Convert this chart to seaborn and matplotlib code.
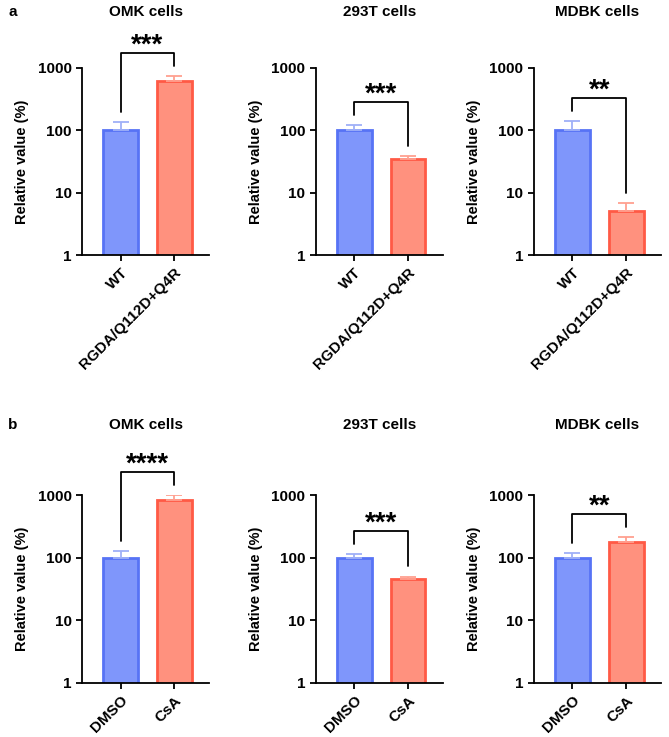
import matplotlib
matplotlib.use('Agg')
import matplotlib.pyplot as plt
import matplotlib.ticker as mticker
import seaborn as sns

sns.set_theme(style="white")
plt.rcParams['font.family'] = ['Liberation Sans', 'DejaVu Sans']
plt.rcParams['font.weight'] = 'bold'
plt.rcParams['text.color'] = 'black'
plt.rcParams['axes.labelcolor'] = 'black'
plt.rcParams['xtick.color'] = 'black'
plt.rcParams['ytick.color'] = 'black'

# Datos
cells = ['OMK cells', '293T cells', 'MDBK cells']
groups_a = ['WT', 'RGDA/Q112D+Q4R']
groups_b = ['DMSO', 'CsA']
means_a = [[100, 620], [100, 35], [100, 5.1]]
sd_a = [[35, 120], [20, 4], [40, 1.8]]
stars_a = ['***', '***', '**']
means_b = [[100, 830], [100, 45], [100, 178]]
sd_b = [[28, 170], [15, 5], [20, 36]]
stars_b = ['****', '***', '**']

fill = ['#7f96fb', '#ff917e']
edge = ['#5773f5', '#ff5a45']
errc = ['#9fb0f8', '#ffa090']

fig = plt.figure(figsize=(6.69, 7.37), dpi=100)
lefts = [0.1226, 0.472, 0.798]
width = 0.19
rows = [(0.654, 0.254), (0.0733, 0.255)]


def panel(ax, groups, means, sd, stars):
    sns.barplot(x=groups, y=means, hue=groups, palette=fill, legend=False,
                saturation=1, width=0.65, linewidth=2, ax=ax)
    for p, ec in zip(ax.patches, edge):
        p.set_edgecolor(ec)
    ax.set_yscale('log')
    for i in range(2):
        ax.errorbar(i, means[i], yerr=[[0], [sd[i]]], color=errc[i],
                    capsize=6, elinewidth=1.3, capthick=1.3, zorder=1)
    ax.set_ylim(1, 1000)
    ax.set_xlim(-0.72, 1.65)
    ax.yaxis.set_major_locator(mticker.FixedLocator([1, 10, 100, 1000]))
    ax.yaxis.set_major_formatter(mticker.FixedFormatter(['1', '10', '100', '1000']))
    ax.yaxis.set_minor_locator(mticker.NullLocator())
    for s in ['top', 'right']:
        ax.spines[s].set_visible(False)
    for s in ['left', 'bottom']:
        ax.spines[s].set_color('black')
        ax.spines[s].set_linewidth(1.3)
    ax.tick_params(axis='both', length=4, width=1.3, color='black',
                   labelsize=11, direction='out', bottom=True, left=True)
    ax.set_xticks([0, 1])
    ax.set_xticklabels(groups, rotation=45, ha='right', rotation_mode='anchor',
                       fontweight='bold')
    for t in ax.get_yticklabels():
        t.set_fontweight('bold')
    ax.set_ylabel('Relative value (%)', fontsize=10.5, fontweight='bold', labelpad=6)
    ax.set_xlabel('')
    # corchete de significancia
    up = [m + e for m, e in zip(means, sd)]
    l0, l1 = up[0] * 1.45, up[1] * 1.45
    top = max(l0, l1) * 1.6
    ax.plot([0, 0, 1, 1], [l0, top, top, l1], color='black', lw=1.3,
            clip_on=False)
    ax.annotate(stars, xy=(0.5, top), xytext=(0, -4), textcoords='offset points',
                ha='center', va='bottom', fontsize=20, fontweight='bold',
                annotation_clip=False)


for r, (bottom, h) in enumerate(rows):
    groups = groups_a if r == 0 else groups_b
    means = means_a if r == 0 else means_b
    sds = sd_a if r == 0 else sd_b
    stars = stars_a if r == 0 else stars_b
    for c in range(3):
        ax = fig.add_axes([lefts[c], bottom, width, h])
        panel(ax, groups, means[c], sds[c], stars[c])
        ty = 0.984 if r == 0 else 0.423
        fig.text(lefts[c] + width / 2, ty, cells[c], ha='center', va='center',
                 fontsize=11, fontweight='bold')

fig.text(0.012, 0.984, 'a', ha='left', va='center', fontsize=11, fontweight='bold')
fig.text(0.012, 0.423, 'b', ha='left', va='center', fontsize=11, fontweight='bold')

fig.savefig('out.png', dpi=100)
